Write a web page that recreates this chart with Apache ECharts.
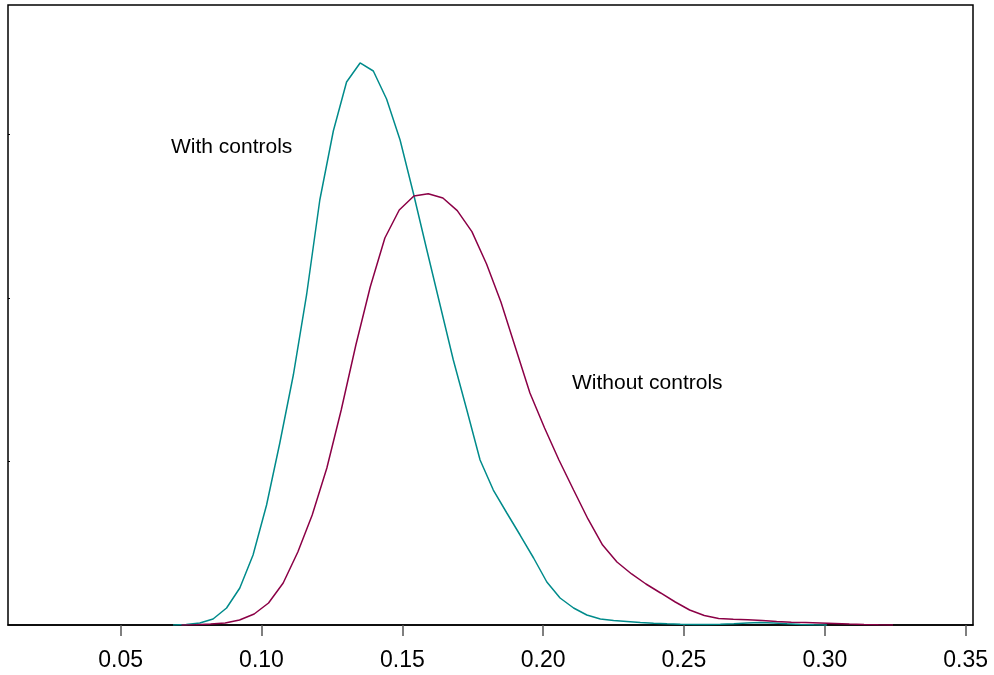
<!DOCTYPE html>
<html>
<head>
<meta charset="utf-8">
<script src="https://cdn.jsdelivr.net/npm/echarts@6/dist/echarts.min.js"></script>
<style>html,body{margin:0;padding:0;background:#fff}#c{width:994px;height:675px}</style>
</head>
<body>
<div id="c"></div>
<script>
const xTickLabels = [0.05, 0.10, 0.15, 0.20, 0.25, 0.30, 0.35];
const yTicks = [5, 10, 15];

const withX = [0.0686, 0.0733, 0.0781, 0.0828, 0.0876, 0.0923, 0.0970, 0.1018, 0.1065, 0.1113,
  0.1160, 0.1207, 0.1255, 0.1302, 0.1350, 0.1397, 0.1444, 0.1492, 0.1539, 0.1587,
  0.1634, 0.1681, 0.1729, 0.1776, 0.1823, 0.1871, 0.1918, 0.1966, 0.2013, 0.2060,
  0.2108, 0.2155, 0.2203, 0.2250, 0.2297, 0.2345, 0.2392, 0.2440, 0.2487, 0.2534,
  0.2582, 0.2629, 0.2677, 0.2724, 0.2771, 0.2819, 0.2866, 0.2913, 0.2961, 0.3008];
const withY = [0, 0.015, 0.061, 0.183, 0.520, 1.131, 2.141, 3.670, 5.566, 7.645,
  10.092, 12.997, 15.107, 16.605, 17.187, 16.942, 16.086, 14.832, 13.211, 11.468,
  9.786, 8.104, 6.575, 5.046, 4.128, 3.425, 2.752, 2.049, 1.315, 0.826,
  0.520, 0.306, 0.183, 0.138, 0.107, 0.076, 0.052, 0.037, 0.024, 0.018,
  0.015, 0.021, 0.037, 0.061, 0.073, 0.061, 0.037, 0.018, 0.006, 0];

const withoutX = [0.0716, 0.0768, 0.0819, 0.0871, 0.0922, 0.0974, 0.1025, 0.1077, 0.1129, 0.1180,
  0.1232, 0.1283, 0.1335, 0.1386, 0.1438, 0.1489, 0.1541, 0.1592, 0.1644, 0.1695,
  0.1747, 0.1799, 0.1850, 0.1902, 0.1953, 0.2005, 0.2056, 0.2108, 0.2159, 0.2211,
  0.2262, 0.2314, 0.2365, 0.2417, 0.2469, 0.2520, 0.2572, 0.2623, 0.2675, 0.2726,
  0.2778, 0.2829, 0.2881, 0.2932, 0.2984, 0.3035, 0.3087, 0.3139, 0.3190, 0.3242];
const withoutY = [0, 0.006, 0.031, 0.061, 0.153, 0.336, 0.673, 1.284, 2.232, 3.364,
  4.801, 6.575, 8.563, 10.336, 11.835, 12.691, 13.119, 13.190, 13.058, 12.670,
  12.028, 11.040, 9.878, 8.471, 7.095, 6.024, 5.046, 4.128, 3.242, 2.446,
  1.927, 1.560, 1.254, 0.979, 0.703, 0.459, 0.291, 0.199, 0.174, 0.162,
  0.138, 0.107, 0.086, 0.073, 0.058, 0.043, 0.028, 0.015, 0.006, 0];

const labels = ["With controls", "Without controls"];
const colors = ["#008b8b", "#8b0046"];

const zip = (xs, ys) => xs.map((x, i) => [x, ys[i]]);

const chart = echarts.init(document.getElementById('c'), null, {renderer: 'canvas'});
chart.setOption({
  animation: false,
  backgroundColor: '#fff',
  grid: {left: 8, right: 21, top: 5, bottom: 50, show: true, borderColor: '#000', borderWidth: 1.5, backgroundColor: 'transparent'},
  xAxis: {
    type: 'value', min: 0.01, max: 0.3526,
    splitLine: {show: false},
    axisLine: {show: true, lineStyle: {color: '#000', width: 1.5}},
    axisTick: {show: true, customValues: xTickLabels, length: 11, lineStyle: {color: '#555', width: 1.5}},
    axisLabel: {show: true, customValues: xTickLabels, formatter: v => v.toFixed(2), color: '#000',
      fontFamily: 'Liberation Sans, Arial, sans-serif', fontSize: 23, margin: 24}
  },
  yAxis: {
    type: 'value', min: 0, max: 18.96,
    splitLine: {show: false},
    axisLine: {show: false},
    axisTick: {show: true, inside: true, customValues: yTicks, length: 2, lineStyle: {color: '#000', width: 1}},
    axisLabel: {show: false}
  },
  series: [
    {name: labels[0], type: 'line', data: zip(withX, withY), showSymbol: false, smooth: false,
      lineStyle: {color: colors[0], width: 1.5}, itemStyle: {color: colors[0]}},
    {name: labels[1], type: 'line', data: zip(withoutX, withoutY), showSymbol: false, smooth: false,
      lineStyle: {color: colors[1], width: 1.5}, itemStyle: {color: colors[1]}}
  ],
  graphic: [
    {type: 'text', left: 171, top: 137, style: {text: labels[0], fill: '#000', font: '21px "Liberation Sans", Arial, sans-serif', letterSpacing: 0.6}},
    {type: 'text', left: 572, top: 373, style: {text: labels[1], fill: '#000', font: '21px "Liberation Sans", Arial, sans-serif', letterSpacing: 0.6}}
  ]
});
</script>
</body>
</html>
